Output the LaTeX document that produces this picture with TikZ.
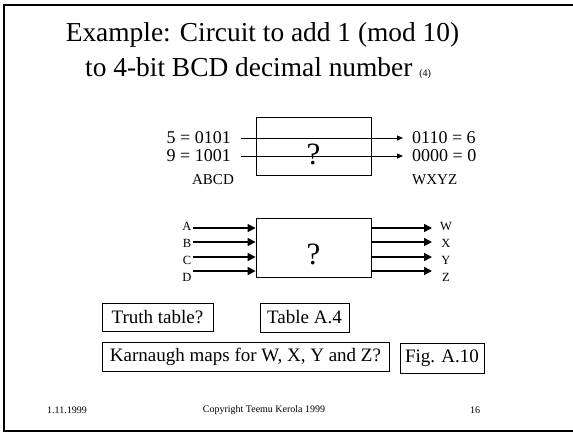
\documentclass[tikz,border=0pt]{standalone}
\usepackage{fontspec}
\setmainfont{Liberation Serif}
\usetikzlibrary{arrows.meta}
\begin{document}
\begin{tikzpicture}[x=1pt,y=-1pt,
  lbl/.style={inner sep=0pt,font=\fontsize{18}{18}\selectfont},
  sml/.style={inner sep=0pt,font=\fontsize{15}{15}\selectfont},
  pin/.style={inner sep=0pt,font=\fontsize{12.5}{12.5}\selectfont},
  boxed/.style={draw,line width=0.8pt,inner sep=0pt,font=\fontsize{19}{19}\selectfont},
  blk/.style={draw,line width=0.8pt,inner sep=0pt},
  qm/.style={inner sep=0pt,font=\fontsize{31}{31}\selectfont},
  thin/.style={line width=0.8pt,-{Triangle[length=6pt,width=5pt]}},
  thick/.style={line width=1.6pt,-{Triangle[length=8pt,width=8pt]}},
  foot/.style={inner sep=0pt,font=\fontsize{10}{10}\selectfont}]
\useasboundingbox (0,0) rectangle (573,432);
\fill[white] (0,0) rectangle (573,432);
\draw[line width=2pt] (573,5) -- (4,5) -- (4,431) -- (573,431);
% title
\node[inner sep=0pt,anchor=base,font=\fontsize{27.4}{27.4}\selectfont] (t1) at (262.5,41) {Example: Circuit to add 1 (mod 10)};
\node[inner sep=0pt,anchor=base west,font=\fontsize{27.4}{27.4}\selectfont] (t2) at (85,76) {to 4-bit BCD decimal number \fontsize{10}{10}\selectfont(4)};
% box 1
\node[blk,minimum width=115pt,minimum height=58pt] (b1) at (313.5,146) {};
\node[qm] (q1) at (313.5,154) {?};
\coordinate (s1) at (241,138);
\coordinate (e1) at (403,138);
\coordinate (s2) at (241,156);
\coordinate (e2) at (403,156);
\draw[thin] (s1) -- (e1);
\draw[thin] (s2) -- (e2);
\node[lbl,anchor=east] (l1) at (231,138) {5 = 0101};
\node[lbl,anchor=east] (l2) at (231,156) {9 = 1001};
\node[sml] (abcd) at (213,180) {ABCD};
\node[lbl,anchor=west] (r1) at (412,138) {0110 = 6};
\node[lbl,anchor=west] (r2) at (412,156) {0000 = 0};
\node[sml,anchor=west] (wxyz) at (412,180) {WXYZ};
% box 2
\node[blk,minimum width=115pt,minimum height=59pt] (b2) at (313.5,247.5) {};
\node[qm] (q2) at (313.5,254) {?};
\foreach \n/\y/\ly/\i/\o in {1/228/226/A/W,2/242/243/B/X,3/257/260/C/Y,4/271/277/D/Z}{
  \coordinate (in\n) at (193,\y);
  \coordinate (out\n) at (432,\y);
  \draw[thick] (in\n) -- (b2.west |- in\n);
  \draw[thick] (b2.east |- out\n) -- (out\n);
  \node[pin] (li\n) at (187,\ly) {\i};
  \node[pin] (lo\n) at (446,\ly) {\o};
}
% bottom boxes
\node[boxed,minimum width=111pt,minimum height=28pt] (tt) at (157.5,317) {Truth table?};
\node[boxed,minimum width=89pt,minimum height=29pt] (ta) at (304.5,317.5) {Table A.4};
\node[boxed,minimum width=287pt,minimum height=29pt] (km) at (245.5,356.5) {Karnaugh maps for W, X, Y and Z?};
\node[boxed,minimum width=84pt,minimum height=30pt] (fg) at (442,358) {Fig. A.10};
% footer
\node[foot] (d) at (67,410) {1.11.1999};
\node[foot] (c) at (264,410) {Copyright Teemu Kerola 1999};
\node[foot] (p) at (475,410) {16};
\end{tikzpicture}
\end{document}
